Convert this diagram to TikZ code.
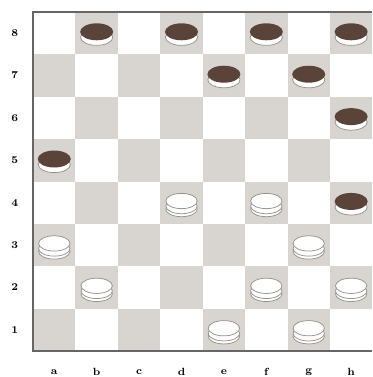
\documentclass[tikz,border=0pt]{standalone}
\usetikzlibrary{positioning}
\definecolor{sqgray}{RGB}{216,213,208}
\definecolor{piecebrown}{RGB}{90,68,58}
\definecolor{rimgray}{RGB}{150,146,142}
\begin{document}
\begin{tikzpicture}[
			x=1cm,y=1cm,
			darksq/.style={fill=sqgray},
			frame/.style={draw=black!60,line width=1pt},
			coordlabel/.style={font=\scriptsize\bfseries,inner sep=0pt},
			rim/.style={draw=rimgray,fill=white,line width=0.5pt},
			blackman/.pic={
				\draw[rim] (0,-0.1) ellipse (0.38 and 0.19);
				\fill[piecebrown] (0,0.03) ellipse (0.39 and 0.2);
			},
			whiteman/.pic={
				\draw[rim] (0,-0.15) ellipse (0.37 and 0.18);
				\draw[rim] (0,-0.08) ellipse (0.37 and 0.18);
				\draw[rim] (0,0.04) ellipse (0.37 and 0.18);
			}
			]
			
			\useasboundingbox (-0.78,-0.61) rectangle (8,8.28);
			
			% board
			\foreach \col in {1,...,8}
			\foreach \row in {1,...,8}{
				\pgfmathtruncatemacro{\sqpar}{mod(\col+\row,2)}
				\ifnum\sqpar=0 \fill[darksq] (\col-1,\row-1) rectangle (\col,\row); \fi
			}
			\draw[frame] (8,8) -- (0,8) -- (0,0) -- (8,0);
			
			% coordinates
			\foreach \f [count=\i] in {a,b,c,d,e,f,g,h}
			\node[coordlabel] (file\f) at (\i-0.5,-0.5) {\f};
			\foreach \r in {1,...,8}
			\node[coordlabel] (rank\r) at (-0.43,\r-0.5) {\r};
			
			% pieces
			\foreach \c/\r in {2/8,4/8,6/8,8/8,5/7,7/7,8/6,1/5,8/4}
			\pic at (\c-0.5,\r-0.5) {blackman};
			\foreach \c/\r in {4/4,6/4,1/3,7/3,2/2,6/2,8/2,5/1,7/1}
			\pic at (\c-0.5,\r-0.5) {whiteman};
			
		\end{tikzpicture}
\end{document}
